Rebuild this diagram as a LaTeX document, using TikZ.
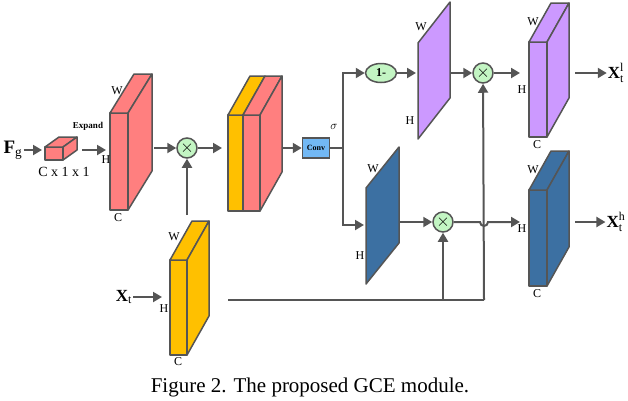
\documentclass[tikz,border=0pt]{standalone}
\usepackage{fontspec}
\setmainfont{Liberation Serif}
\usetikzlibrary{arrows.meta,shapes.geometric,calc}
\definecolor{lnc}{HTML}{555555}
\definecolor{redb}{HTML}{FF7F7F}
\definecolor{yelb}{HTML}{FFC000}
\definecolor{purb}{HTML}{CC99FF}
\definecolor{blub}{HTML}{3C70A2}
\definecolor{grnb}{HTML}{C3F5C3}
\definecolor{conb}{HTML}{72B8F4}
\newcommand{\fsz}[1]{\fontsize{#1}{#1}\selectfont}
% cuboid: #1 fill, (#2,#3) front top-left, (#4,#5) front bottom-right, (#6,#7) depth offset
\newcommand{\cuboid}[7]{%
  \filldraw[face,fill=#1] (#2,#3) rectangle (#4,#5);
  \filldraw[face,fill=#1] (#2,#3) -- ++(#6,#7) -- ($(#4,#3)+(#6,#7)$) -- (#4,#3) -- cycle;
  \filldraw[face,fill=#1] (#4,#3) -- ($(#4,#3)+(#6,#7)$) -- ($(#4,#5)+(#6,#7)$) -- (#4,#5) -- cycle;}
\begin{document}
\begin{tikzpicture}[x=1pt,y=-1pt,
    face/.style={draw=lnc,line width=1.5pt,line join=round},
    arr/.style={draw=lnc,line width=2pt,-{Triangle[length=9pt,width=10pt]}},
    ln/.style={draw=lnc,line width=2pt},
    mul/.style={circle,draw=lnc,line width=1.5pt,fill=grnb,minimum size=20pt,inner sep=0pt,font=\fsz{16}},
    lbl/.style={font=\fsz{12},inner sep=1pt}]
\useasboundingbox (0,0) rectangle (628,400);

% small box and big red slab
\cuboid{redb}{45}{147}{63}{160}{14}{-10}
\cuboid{redb}{110}{113}{128}{210}{24}{-39}
% concatenation
\filldraw[face,fill=yelb] (228,115) rectangle (243,211);
\filldraw[face,fill=yelb] (228,115) -- (250,76) -- (265,76) -- (243,115) -- cycle;
\cuboid{redb}{243}{115}{260}{211}{22}{-39}
% X_t block
\cuboid{yelb}{170}{260}{187}{355}{22}{-39}
% purple and blue maps
\filldraw[face,fill=purb] (418,43) -- (450,2) -- (450,98) -- (418,139) -- cycle;
\filldraw[face,fill=blub] (366,188) -- (399,147) -- (399,243) -- (366,284) -- cycle;
\cuboid{purb}{529}{42}{547}{137}{22}{-39}
\cuboid{blub}{529}{190}{547}{286}{22}{-39}

% nodes
\node[font=\fsz{19},inner sep=1pt] (fg) at (13,150) {$\mathbf{F}_{\mathrm{g}}$};
\coordinate (sbl) at (42,152);
\coordinate (sbr) at (82,150);
\coordinate (rsl) at (106,150);
\coordinate (rsr) at (154,148);
\node[mul] (m1) at (187,148) {$\times$};
\coordinate (ccl) at (222,148);
\coordinate (ccr) at (283,148);
\node[draw=lnc,line width=1.5pt,fill=conb,minimum width=27pt,minimum height=20pt,inner sep=0pt,font=\fsz{8}\bfseries] (conv) at (316,148) {Conv};
\node[font=\fsz{13}] at (334,127) {$\sigma$};
\coordinate (split) at (343,148);
\node[ellipse,draw=lnc,line width=1.5pt,fill=grnb,minimum width=31pt,minimum height=19pt,inner sep=0pt,font=\fsz{12}\bfseries] (om) at (381,73) {1-};
\coordinate (pl) at (416,73);
\coordinate (pr) at (450,73);
\node[mul] (m2) at (483,73) {$\times$};
\coordinate (pcl) at (520,73);
\coordinate (bl) at (364,225);
\coordinate (br) at (399,222);
\node[mul] (m3) at (443,222) {$\times$};
\coordinate (hop) at (484,222);
\coordinate (bcl) at (520,222);
\coordinate (xyl) at (187,215);
\node[font=\fsz{17},inner sep=1pt] (xt) at (124,297) {$\mathbf{X}_{\mathrm{t}}$};
\coordinate (xtb) at (162,297);
\coordinate (xs) at (228,300);
\coordinate (j3) at (443,300);
\coordinate (j2) at (484,300);
\coordinate (o1s) at (575,73);
\coordinate (o2s) at (575,222);
\node[font=\fsz{17},inner sep=1pt] (xl) at (616,73) {$\mathbf{X}_{\mathrm{t}}^{\mathrm{l}}$};
\node[font=\fsz{17},inner sep=1pt] (xh) at (616,222) {$\mathbf{X}_{\mathrm{t}}^{\mathrm{h}}$};

% labels
\node[font=\fsz{9}\bfseries] at (88,126) {Expand};
\node[font=\fsz{14}] at (64,172) {C x 1 x 1};
\node[lbl] at (117,91) {W}; \node[lbl] at (106,160) {H}; \node[lbl] at (118,218) {C};
\node[lbl] at (174,237) {W}; \node[lbl] at (164,309) {H}; \node[lbl] at (178,362) {C};
\node[lbl] at (421,27) {W}; \node[lbl] at (410,121) {H};
\node[lbl] at (373,169) {W}; \node[lbl] at (360,256) {H};
\node[lbl] at (533,22) {W}; \node[lbl] at (522,90) {H}; \node[lbl] at (537,145) {C};
\node[lbl] at (533,170) {W}; \node[lbl] at (522,229) {H}; \node[lbl] at (537,294) {C};

% connectors
\draw[arr] (fg.east) -- (sbl |- fg.east);
\draw[arr] (sbr) -- (rsl);
\draw[arr] (rsr) -- (m1);
\draw[arr] (xyl) -- (m1);
\draw[arr] (m1) -- (ccl);
\draw[arr] (ccr) -- (conv);
\draw[ln] (conv) -- (split);
\draw[arr] (split) |- (om);
\draw[arr] (split) |- (bl);
\draw[arr] (om) -- (pl);
\draw[arr] (pr) -- (m2);
\draw[arr] (m2) -- (pcl);
\draw[arr] (br) -- (m3);
\draw[arr] (m3) -- ($(hop)+(-4,0)$) arc[start angle=180,end angle=0,radius=4] -- (bcl);
\draw[arr] (xt) -- (xtb);
\draw[ln] (xs) -- (j2);
\draw[arr] (j3) -- (m3);
\draw[arr] (j2) -- (m2);
\draw[arr] (o1s) -- (xl.west);
\draw[arr] (o2s) -- (xh.west);

\node[font=\fsz{21}] (cap) at (310,387) {Figure 2. The proposed GCE module.};
\end{tikzpicture}
\end{document}
